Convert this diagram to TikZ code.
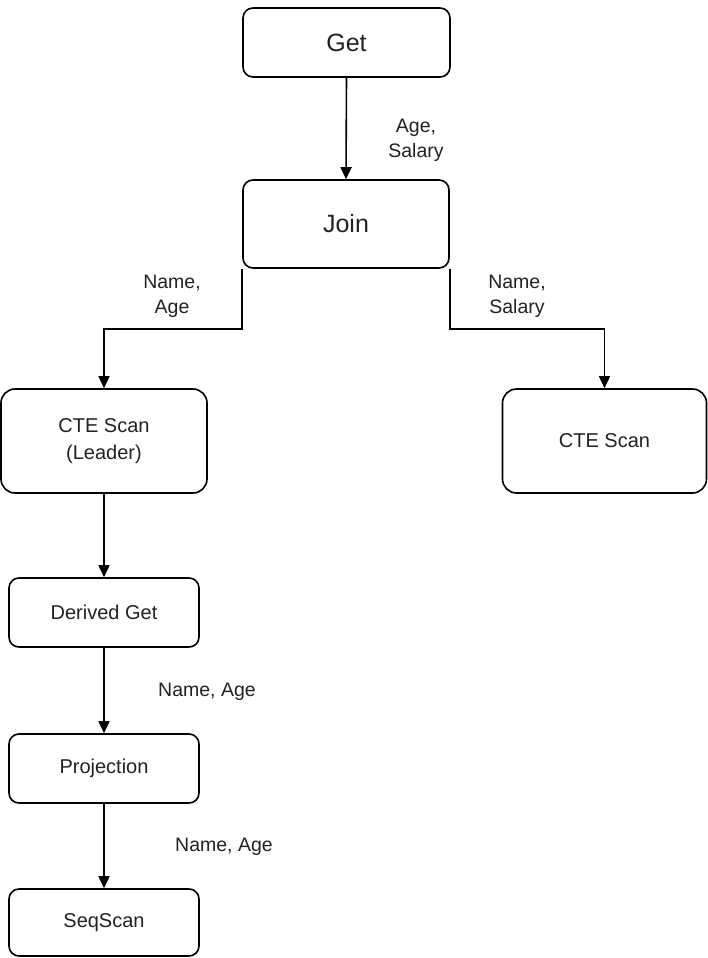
\documentclass[tikz,border=0pt]{standalone}
\usepackage{fontspec}
\setmainfont{Liberation Sans}
\usetikzlibrary{arrows.meta}
\definecolor{ink}{HTML}{222222}
\begin{document}
\begin{tikzpicture}[x=1pt,y=-1pt,
  box/.style={draw=black,line width=1.6pt,rounded corners=10pt,inner sep=0pt,
    align=center,text=ink,font=\fontsize{20}{27}\selectfont},
  bigbox/.style={box,font=\fontsize{25}{30}\selectfont},
  lbl/.style={inner sep=0pt,align=center,text=ink,font=\fontsize{19.5}{25}\selectfont},
  arr/.style={draw=black,line width=1.6pt,-{Triangle[length=12pt,width=11pt]}}]
  \useasboundingbox[fill=white] (0,0) rectangle (708,958);
  % operator boxes
  \node[bigbox,minimum width=207pt,minimum height=69pt] (get) at (346.5,42.5) {Get};
  \node[bigbox,minimum width=206pt,minimum height=88pt] (join) at (346,224) {Join};
  \node[box,rounded corners=14pt,minimum width=206pt,minimum height=104pt] (cteL) at (104,441) {CTE Scan\\(Leader)};
  \node[box,rounded corners=14pt,minimum width=204pt,minimum height=104pt] (cteR) at (604.5,441) {CTE Scan};
  \node[box,minimum width=190pt,minimum height=69pt] (dget) at (104,612.5) {Derived Get};
  \node[box,minimum width=190pt,minimum height=69pt] (proj) at (104,768.5) {Projection};
  \node[box,minimum width=190pt,minimum height=67pt] (seq) at (104,922.5) {SeqScan};
  % data flow
  \draw[arr] (get.south) -- (join.north);
  \draw[arr] (join.south west) -- ++(0,60) -| (cteL.north);
  \draw[arr] (join.south east) -- ++(0,60) -| (cteR.north);
  \draw[arr] (cteL.south) -- (dget.north);
  \draw[arr] (dget.south) -- (proj.north);
  \draw[arr] (proj.south) -- (seq.north);
  % column labels
  \node[lbl] (l1) at (416,140) {Age,\\Salary};
  \node[lbl] (l2) at (172,296) {Name,\\Age};
  \node[lbl] (l3) at (517,296) {Name,\\Salary};
  \node[lbl] (l4) at (207,692) {Name, Age};
  \node[lbl] (l5) at (224,847) {Name, Age};
\end{tikzpicture}
\end{document}
